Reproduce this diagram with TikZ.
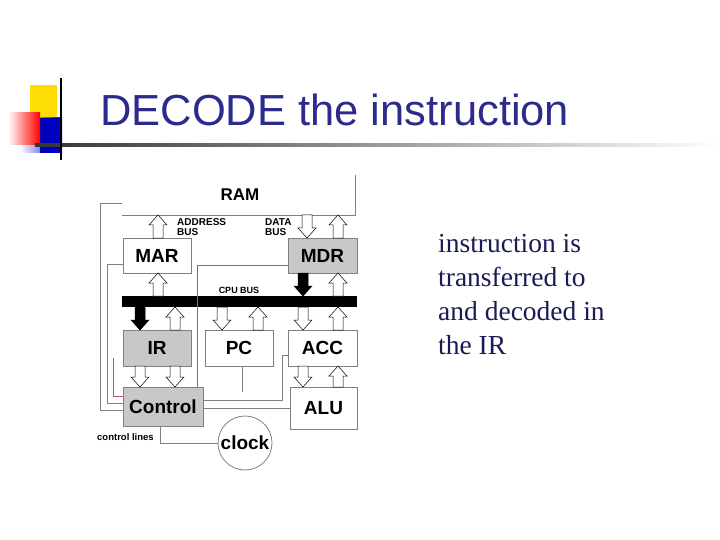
\documentclass[tikz,border=0pt]{standalone}
\usepackage{fontspec}
\setmainfont{Liberation Serif}
\newfontfamily\arial{Liberation Sans}
\definecolor{navy}{HTML}{2B2B8C}
\definecolor{boxgray}{HTML}{C8C8C8}
\definecolor{linegray}{HTML}{808080}
\definecolor{pinkline}{HTML}{C05068}
\newcommand{\busarrow}[4]{% x, y tail, y head, fill
  \pgfmathsetmacro{\dir}{((#3)>(#2))?1:-1}
  \filldraw[fill=#4,draw=black,line width=0.5pt]
    (#1-5,#2) -- (#1-5,#3-\dir*10) -- (#1-9,#3-\dir*10) -- (#1,#3) -- (#1+9,#3-\dir*10) -- (#1+5,#3-\dir*10) -- (#1+5,#2) -- cycle;}
\begin{document}
\begin{tikzpicture}[x=1pt,y=-1pt,
  reg/.style={draw=linegray,line width=0.8pt,inner sep=0pt,font=\arial\bfseries\fontsize{19}{19}\selectfont},
  lab/.style={font=\arial\bfseries\fontsize{10}{10}\selectfont,align=left,inner sep=0pt},
  wire/.style={draw=linegray,line width=0.8pt},
  pwire/.style={draw=pinkline,line width=0.7pt}]
\useasboundingbox (0,0) rectangle (720,540);
% title decoration
\fill[yellow!80!orange] (30,85) rectangle (57,118);
\shade[left color=white,right color=blue!80!black] (20,118) rectangle (62,153);
\fill[blue!75!black] (40,118) rectangle (62,153);
\shade[left color=white,right color=red] (8,113) rectangle (40,145);
\shade[left color=black!80,right color=white] (35,144) rectangle (720,147);
\draw[black,line width=1.5pt] (61,78) -- (61,160);
\node[anchor=west,text=navy,font=\arial\fontsize{43.5}{43.5}\selectfont,inner sep=0pt] (title) at (100,110) {DECODE the instruction};
% right text
\node[anchor=north west,align=left,text=navy!60!black,font=\fontsize{27.5}{34}\selectfont,inner sep=0pt] (txt) at (438,234) {instruction is\\transferred to\\and decoded in\\the IR};
% RAM
\node[font=\arial\bfseries\fontsize{17}{17}\selectfont] (ram) at (240,195) {RAM};
\coordinate (ramL) at (122,215);
\coordinate (ramR) at (355,215);
\coordinate (ramT) at (355,175);
\draw[wire] (ramT) -- (ramR) -- (ramL);
% registers
\node[reg,minimum width=68pt,minimum height=35pt] (mar) at (157,255.5) {MAR};
\node[reg,fill=boxgray,minimum width=69pt,minimum height=35pt] (mdr) at (322.5,255.5) {MDR};
\node[fill=black,minimum width=235pt,minimum height=11pt,inner sep=0pt] (bus) at (239.5,301.5) {};
\node[reg,fill=boxgray,minimum width=68pt,minimum height=36pt] (ir) at (157,348) {IR};
\node[reg,minimum width=68pt,minimum height=36pt] (pc) at (239,348) {PC};
\node[reg,minimum width=69pt,minimum height=36pt] (acc) at (322.5,348) {ACC};
\node[reg,fill=boxgray,minimum width=80pt,minimum height=39pt] (ctl) at (163,406.5) {Control};
\node[reg,minimum width=67pt,minimum height=42pt] (alu) at (323.5,408) {ALU};
\node[reg,circle,minimum size=54pt] (clk) at (245,443) {clock};
% labels
\node[lab,anchor=north west] (ab) at (177,218) {ADDRESS\\BUS};
\node[lab,anchor=north west] (db) at (265,218) {DATA\\BUS};
\node[lab,font=\arial\bfseries\fontsize{9}{9}\selectfont,anchor=south] (cb) at (239,294) {CPU BUS};
\node[lab,font=\arial\bfseries\fontsize{9.5}{9.5}\selectfont,anchor=west] (cl) at (97,437) {control lines};
% arrows
\busarrow{158}{238}{215}{white}
\busarrow{307}{215}{238}{white}
\busarrow{338}{238}{215}{white}
\busarrow{158}{296}{273}{white}
\busarrow{303}{273}{296}{black}
\busarrow{338}{296}{273}{white}
\busarrow{140}{307}{330}{black}
\busarrow{175}{330}{307}{white}
\busarrow{222}{307}{330}{white}
\busarrow{258}{330}{307}{white}
\busarrow{303}{307}{330}{white}
\busarrow{338}{330}{307}{white}
\busarrow{140}{366}{387}{white}
\busarrow{175}{366}{387}{white}
\busarrow{303}{366}{387}{white}
\busarrow{338}{387}{366}{white}
% wires
\draw[wire] (ramL |- 0,203) -| (100,410) -- (ctl.west |- 0,410);
\draw[wire] (mar.west |- 0,264) -| (107,403) -- (ctl.west |- 0,403);
\draw[wire] (ctl.east |- 0,400) -| (282,355) -- (acc.west |- 0,355);
\draw[wire] (ctl.east |- 0,408) -- (alu.west |- 0,408);
\draw[wire] (pc.south -| 242,0) -- (242,392);
\draw[wire] (160,426) |- (clk.west);
\draw[pwire] (mdr.west |- 0,265) -| (197,387);
\draw[pwire] (113,358) |- (ctl.west |- 0,396);
\end{tikzpicture}
\end{document}
